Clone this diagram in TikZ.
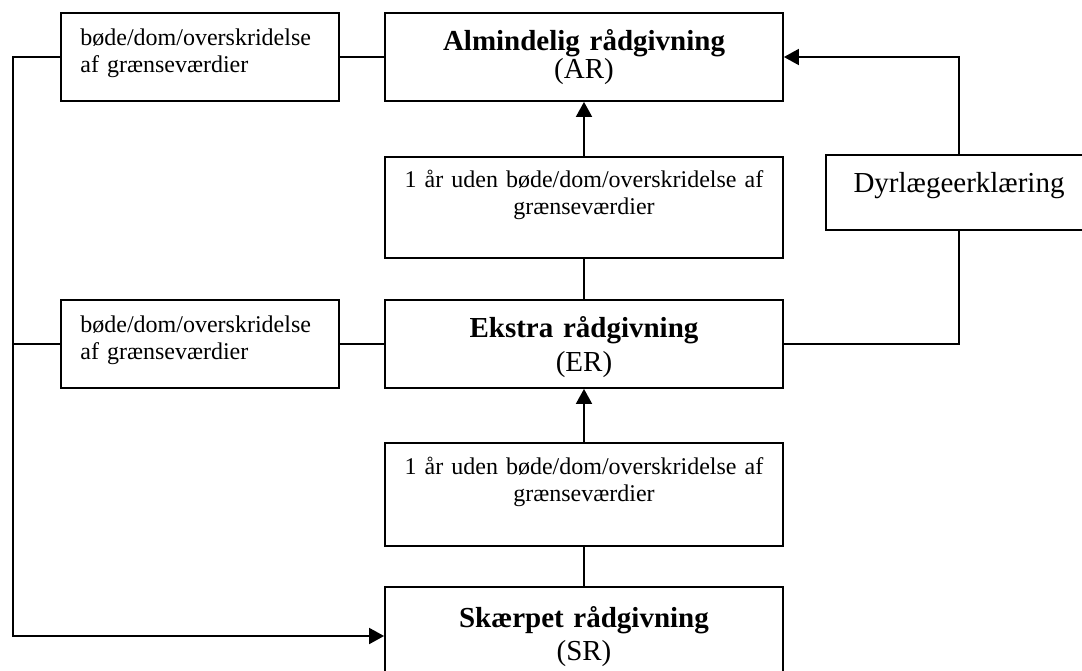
\documentclass[tikz,border=0pt]{standalone}
\usepackage{fontspec}
\setmainfont{Liberation Serif}
\usetikzlibrary{arrows.meta}
\tikzset{
>={Triangle[length=7.5pt,width=8pt]}, % filled arrow heads
box/.style={draw, line width=0.9pt, inner sep=0pt, minimum width=199pt, minimum height=44pt}, % the boxes in the middle column
small/.style={box, minimum width=139pt}, % the boxes on the left
link/.style={line width=0.9pt}, % every connecting line
txt/.style={inner sep=0pt, font=\fontsize{12}{13.8}\selectfont},
head/.style={inner sep=0pt, text width=195pt, align=center, anchor=base},
}

\begin{document}
\begin{tikzpicture}[x=0.5pt, y=-0.5pt]
\useasboundingbox (0,0) rectangle (1082,670);
% boxes
\node[small] (lb1) at (200,57) {};
\node[box] (ar) at (584,57) {};
\node[box, minimum height=50.5pt] (m1) at (584,207.5) {};
\node[box, minimum width=133pt, minimum height=37.5pt] (dyr) at (959,192.5) {};
\node[small] (lb2) at (200,344) {};
\node[box] (er) at (584,344) {};
\node[box, minimum height=51.5pt] (m2) at (584,494.5) {};
\node[box, minimum height=49pt] (sr) at (584,636) {};
% texts
\node[txt, anchor=base west, text width=125pt, align=left] (lb1-t) at (80,45) {bøde/dom/overskridelse\\af grænseværdier};
\node[txt, anchor=base west, text width=125pt, align=left] (lb2-t) at (80,332) {bøde/dom/overskridelse\\af grænseværdier};
\node[head, font=\fontsize{14.5}{14}\selectfont] (ar-t) at (584,50) {\textbf{Almindelig rådgivning}\\(AR)};
\node[head, font=\fontsize{14.5}{17}\selectfont] (er-t) at (584,337) {\textbf{Ekstra rådgivning}\\(ER)};
\node[head, font=\fontsize{14.5}{16.5}\selectfont] (sr-t) at (584,627) {\textbf{Skærpet rådgivning}\\(SR)};
\node[txt, anchor=base, text width=195pt, align=center] (m1-t) at (584,187) {1 år uden bøde/dom/overskridelse af\\grænseværdier};
\node[txt, anchor=base, text width=195pt, align=center] (m2-t) at (584,474) {1 år uden bøde/dom/overskridelse af\\grænseværdier};
\node[inner sep=0pt, anchor=base, font=\fontsize{14.5}{17}\selectfont] (dyr-t) at (959,192) {Dyrlægeerklæring};
% lines
\coordinate (rail) at (13,636);
\draw[link,->] (lb1.west) -| (rail) -- (sr.west);
\draw[link] (lb2.west) -- (lb2.west -| rail);
\draw[link] (lb1.east) -- (ar.west);
\draw[link] (lb2.east) -- (er.west);
\draw[link,->] (m1.north) -- (ar.south);
\draw[link] (m1.south) -- (er.north);
\draw[link,->] (m2.north) -- (er.south);
\draw[link] (m2.south) -- (sr.north);
\draw[link] (er.east) -| (dyr.south);
\draw[link,->] (dyr.north) |- (ar.east);
\end{tikzpicture}
\end{document}
